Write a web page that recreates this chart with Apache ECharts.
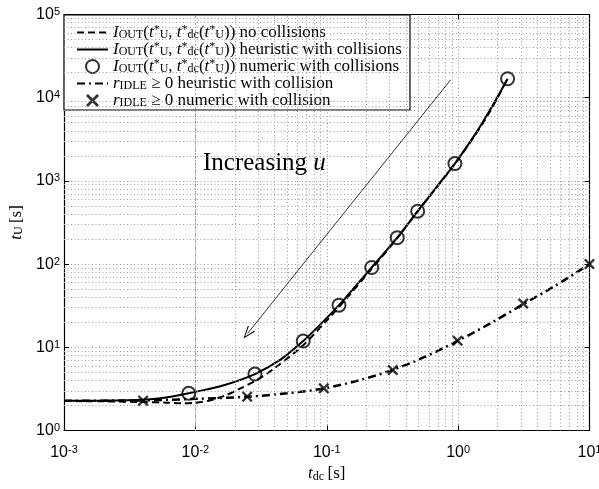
<!DOCTYPE html>
<html>
<head>
<meta charset="utf-8">
<script src="https://cdn.jsdelivr.net/npm/echarts@6/dist/echarts.min.js"></script>
<style>
  html, body { margin: 0; padding: 0; background: #fff; }
  #chart { width: 599px; height: 489px; }
</style>
</head>
<body>
<div id="chart"></div>
<script>
// I_OUT(t*_U, t*_dc(t*_U)) without collisions (dashed)
const tdcNoColl = [0.001, 0.002, 0.004, 0.006, 0.008, 0.01, 0.013, 0.017, 0.022, 0.029, 0.04, 0.0662, 0.1, 0.15, 0.22, 0.344, 0.492, 0.945, 1.6, 2.38];
const tuNoColl  = [2.26, 2.24, 2.2, 2.16, 2.12, 2.15, 2.3, 2.65, 3.2, 4.0, 5.6, 10.6, 21, 43, 88, 205, 430, 1610, 5400, 16900];

// heuristic with collisions (solid)
const tdcHeur = [0.001, 0.002, 0.003, 0.004, 0.005, 0.0065, 0.0089, 0.012, 0.017, 0.0284, 0.045, 0.0662, 0.09, 0.124, 0.165, 0.22, 0.344, 0.492, 0.7, 0.945, 1.35, 1.85, 2.38];
const tuHeur  = [2.28, 2.29, 2.31, 2.34, 2.4, 2.55, 2.8, 3.1, 3.55, 4.77, 7.2, 11.9, 19.0, 32.1, 54, 91, 208, 432, 880, 1613, 3650, 8300, 16900];

// numeric optimum with collisions (circles)
const tdcNum = [0.0089, 0.0284, 0.0662, 0.124, 0.22, 0.344, 0.492, 0.945, 2.38];
const tuNum  = [2.8, 4.77, 11.9, 32.1, 91, 208, 432, 1613, 16900];

// r_IDLE >= 0, heuristic (dash-dot)
const tdcIdleHeur = [0.001, 0.004, 0.01, 0.025, 0.05, 0.095, 0.18, 0.318, 0.55, 1, 1.8, 3.13, 5.5, 10];
const tuIdleHeur  = [2.28, 2.3, 2.4, 2.55, 2.8, 3.2, 4.05, 5.35, 7.6, 12, 19.8, 33, 55, 100];

// r_IDLE >= 0, numeric (crosses)
const tdcIdleNum = [0.004, 0.0248, 0.095, 0.318, 0.99, 3.13, 10];
const tuIdleNum  = [2.28, 2.55, 3.21, 5.33, 12, 33.6, 100];

// "Increasing u" arrow, tail and head in data coordinates
const arrowTail = [0.877, 16400];
const arrowHead = [0.025, 14.7];

const xRange = [1e-3, 1e1];
const yRange = [1e0, 1e5];
const xDecades = [-3, -2, -1, 0];
const yDecades = [0, 1, 2, 3, 4];
const minorSteps = [2, 3, 4, 5, 6, 7, 8, 9];

const serif = '"Liberation Serif", "DejaVu Serif", serif';
const sans = '"Liberation Sans", Arial, sans-serif';
const clear = 'rgba(0,0,0,0)';

function mathRich(size) {
  const small = Math.round(size * 0.68);
  return {
    it:  { fontFamily: serif, fontStyle: 'italic', fontSize: size, color: '#000' },
    rm:  { fontFamily: serif, fontSize: size, color: '#000' },
    sub: { fontFamily: serif, fontSize: small, color: '#000', verticalAlign: 'bottom' },
    sup: { fontFamily: serif, fontSize: small, color: '#000', verticalAlign: 'top' }
  };
}

const ioutTex = '{it|I}{sub|OUT}{rm|(}{it|t}{sup|*}{sub|U}{rm|, }{it|t}{sup|*}{sub|dc}{rm|(}{it|t}{sup|*}{sub|U}{rm|))}';
const legendText = {
  noColl:   ioutTex + '{rm| no collisions}',
  heurColl: ioutTex + '{rm| heuristic with collisions}',
  numColl:  ioutTex + '{rm| numeric with collisions}',
  idleHeur: '{it|r}{sub|IDLE}{rm| ≥ 0 heuristic with collision}',
  idleNum:  '{it|r}{sub|IDLE}{rm| ≥ 0 numeric with collision}'
};

const pairs = (xs, ys) => xs.map((x, i) => [x, ys[i]]);

const crossPath = 'path://M0,3 L3,0 L10,7 L17,0 L20,3 L13,10 L20,17 L17,20 L10,13 L3,20 L0,17 L7,10 Z';
const openArrow = 'path://M5,0 L10,10 L9,10.6 L5,2 L1,10.6 L0,10 Z';

const gridDots = { color: '#9a9a9a', width: 1, type: [1, 2.5] };

// minor grid lines at 2..9 times each decade
const minorLines = [];
xDecades.forEach(d => minorSteps.forEach(m => minorLines.push({ xAxis: m * Math.pow(10, d) })));
yDecades.forEach(d => minorSteps.forEach(m => minorLines.push({ yAxis: m * Math.pow(10, d) })));

function tickLabel(v) {
  const e = Math.round(Math.log10(v));
  return '{b|10}{e|' + e + '}';
}
const tickRich = {
  b: { fontFamily: sans, fontSize: 16, color: '#000' },
  e: { fontFamily: sans, fontSize: 11, color: '#000', verticalAlign: 'top' }
};

function logAxis(range, pos, main) {
  return {
    type: 'log',
    logBase: 10,
    min: range[0],
    max: range[1],
    position: pos,
    axisLine: { show: true, onZero: false, lineStyle: { color: '#000', width: 1.2 } },
    axisTick: { show: true, inside: true, length: 5, lineStyle: { color: '#000' } },
    axisLabel: main ? { show: true, formatter: tickLabel, rich: tickRich } : { show: false },
    splitLine: { show: main, lineStyle: gridDots }
  };
}

const xMain = logAxis(xRange, 'bottom', true);
xMain.axisLabel.margin = 14;
xMain.name = '{it|t}{sub|dc} {rm|[s]}';
xMain.nameLocation = 'middle';
xMain.nameGap = 30;
xMain.nameTextStyle = { rich: mathRich(17) };

const yMain = logAxis(yRange, 'left', true);
yMain.axisLabel.margin = 4;
yMain.name = '{it|t}{sub|U} {rm|[s]}';
yMain.nameLocation = 'middle';
yMain.nameGap = 35;
yMain.nameTextStyle = { rich: mathRich(17) };

const option = {
  animation: false,
  backgroundColor: '#fff',
  grid: { left: 64, right: 9.5, top: 14.5, bottom: 58.5, outerBoundsMode: 'none' },
  xAxis: [xMain, logAxis(xRange, 'top', false)],
  yAxis: [yMain, logAxis(yRange, 'right', false)],
  legend: {
    orient: 'vertical',
    left: 64,
    top: 15,
    padding: [9, 8, 1, 12],
    itemGap: 0,
    itemWidth: 31,
    itemHeight: 13,
    selectedMode: false,
    backgroundColor: '#fff',
    borderColor: '#000',
    borderWidth: 1.2,
    borderRadius: 0,
    data: ['noColl', 'heurColl', 'numColl', 'idleHeur', 'idleNum'],
    formatter: name => legendText[name],
    textStyle: { lineHeight: 17, rich: mathRich(17) }
  },
  graphic: [{
    type: 'text',
    left: 203,
    top: 151,
    style: { text: '{rm|Increasing }{it|u}', rich: mathRich(25) }
  }],
  series: [
    {
      name: 'minorGrid', type: 'line', data: [], z: 1, silent: true,
      markLine: {
        silent: true, symbol: 'none', label: { show: false },
        lineStyle: gridDots, data: minorLines
      }
    },
    {
      name: 'noColl', type: 'line', data: pairs(tdcNoColl, tuNoColl),
      symbol: 'none', smooth: 0.3, z: 3,
      itemStyle: { color: clear },
      lineStyle: { color: '#000', width: 2, type: [7, 4] }
    },
    {
      name: 'heurColl', type: 'line', data: pairs(tdcHeur, tuHeur),
      symbol: 'none', smooth: 0.3, z: 4,
      itemStyle: { color: clear },
      lineStyle: { color: '#000', width: 2 },
      markLine: {
        silent: true,
        symbol: ['none', openArrow],
        symbolSize: [9, 13],
        label: { show: false },
        itemStyle: { color: '#000' },
        lineStyle: { color: '#000', width: 0.8, type: 'solid' },
        data: [[{ coord: arrowTail }, { coord: arrowHead }]]
      }
    },
    {
      name: 'numColl', type: 'scatter', data: pairs(tdcNum, tuNum),
      symbol: 'circle', symbolSize: 13, z: 5, clip: false,
      itemStyle: { color: clear, borderColor: '#000', borderWidth: 2 }
    },
    {
      name: 'idleHeur', type: 'line', data: pairs(tdcIdleHeur, tuIdleHeur),
      symbol: 'none', smooth: 0.3, z: 3,
      itemStyle: { color: clear },
      lineStyle: { color: '#000', width: 2.5, type: [8, 4, 2, 4] }
    },
    {
      name: 'idleNum', type: 'scatter', data: pairs(tdcIdleNum, tuIdleNum),
      symbol: crossPath, symbolSize: 11, z: 5, clip: false,
      itemStyle: { color: '#000' }
    }
  ]
};

const chart = echarts.init(document.getElementById('chart'), null, { renderer: 'canvas' });
chart.setOption(option);
</script>
</body>
</html>
